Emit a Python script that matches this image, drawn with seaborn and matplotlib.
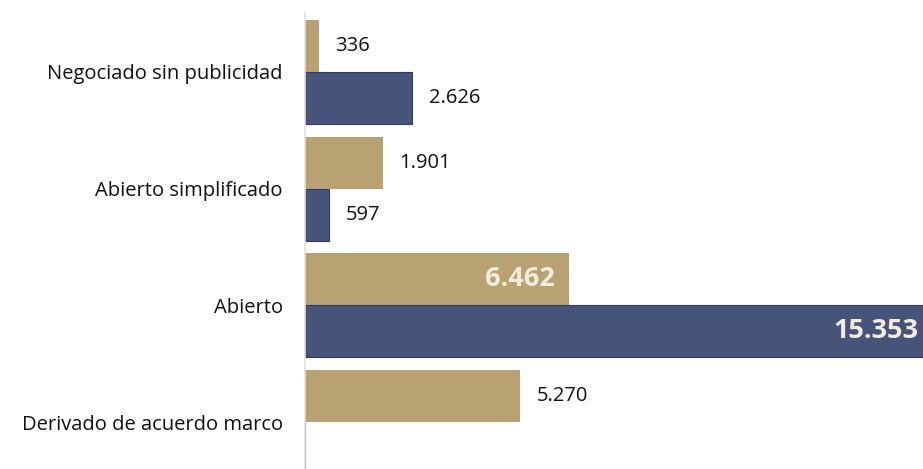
import matplotlib
matplotlib.use("Agg")
import matplotlib.pyplot as plt
import seaborn as sns
import pandas as pd
import numpy as np

categories = ["Negociado sin publicidad", "Abierto simplificado", "Abierto", "Derivado de acuerdo marco"]
series_names = ["Serie 1", "Serie 2"]
values_tan = [336, 1901, 6462, 5270]
values_blue = [2626, 597, 15353, 0]
labels_tan = ["336", "1.901", "6.462", "5.270"]
labels_blue = ["2.626", "597", "15.353", ""]
inside_tan = [False, False, True, False]
inside_blue = [False, False, True, False]

sns.set_theme(style="white")
plt.rcParams["font.family"] = ["Open Sans", "DejaVu Sans"]

df = pd.DataFrame({
    "cat": categories * 2,
    "serie": [series_names[0]] * 4 + [series_names[1]] * 4,
    "val": values_tan + values_blue,
})

tan = "#B8A272"
blue = "#465479"
XMAX = 15120

fig = plt.figure(figsize=(9.23, 4.69), dpi=100)
ax = fig.add_axes([305 / 923, 0, 618 / 923, 1 - 13 / 469])
sns.barplot(data=df, y="cat", x="val", hue="serie", orient="h",
            palette=[tan, blue], width=0.89, ax=ax, legend=False,
            saturation=1)

for patch in ax.containers[1]:
    patch.set_edgecolor("#2E3C68")
    patch.set_linewidth(0.8)
for patch in ax.containers[0]:
    patch.set_edgecolor("none")

ax.set_xlim(0, XMAX)
ax.set_ylim(3.40, -0.504)
ax.set_xlabel("")
ax.set_ylabel("")
ax.set_xticks([])
ax.tick_params(axis="y", length=0, pad=16, labelsize=14.5, labelcolor="#111111")
for s in ["top", "right", "bottom"]:
    ax.spines[s].set_visible(False)
ax.spines["left"].set_color("#E6DFD2")
ax.spines["left"].set_linewidth(1.2)

for cont, labs, ins in [(ax.containers[0], labels_tan, inside_tan),
                        (ax.containers[1], labels_blue, inside_blue)]:
    for patch, lab, inside in zip(cont, labs, ins):
        if not lab:
            continue
        w = patch.get_width()
        yc = patch.get_y() + patch.get_height() / 2
        if inside:
            xend = min(w, XMAX + 260)
            ax.annotate(lab, (xend, yc), xytext=(-10, 0), textcoords="offset points",
                        ha="right", va="center", fontsize=19.5, fontweight="bold",
                        color="#F2ECDF", annotation_clip=False)
        else:
            ax.annotate(lab, (w, yc), xytext=(12, 0), textcoords="offset points",
                        ha="left", va="center", fontsize=14.5, color="#111111")

fig.savefig("out.png", dpi=100)
